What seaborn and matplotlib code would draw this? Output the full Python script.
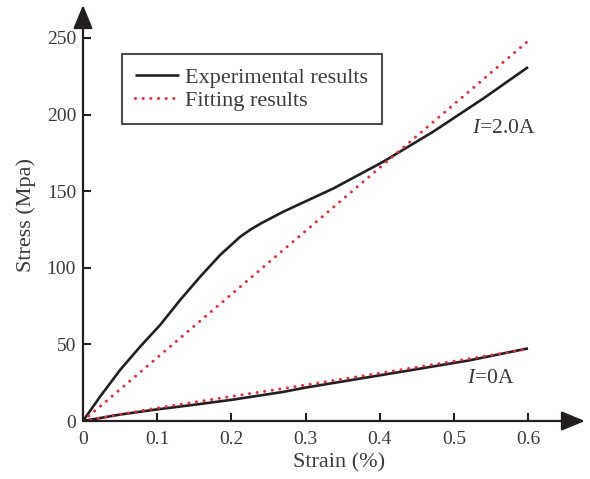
import matplotlib
matplotlib.use("Agg")
import matplotlib.pyplot as plt
import seaborn as sns
import pandas as pd

# ---- data ----
strain_exp_hi = [0.0, 0.023, 0.050, 0.077, 0.104, 0.131, 0.158, 0.185, 0.212, 0.226,
                 0.240, 0.270, 0.338, 0.405, 0.472, 0.540, 0.600]
stress_exp_hi = [0.0, 15.9, 33.3, 48.5, 62.7, 79.0, 94.2, 108.4, 120.3, 125.0,
                 129.0, 136.6, 151.9, 169.3, 188.8, 210.6, 231.0]
strain_fit_hi = [0.0, 0.60]
stress_fit_hi = [0.0, 248.0]

strain_exp_lo = [0.0, 0.05, 0.10, 0.15, 0.20, 0.27, 0.30, 0.43, 0.52, 0.60]
stress_exp_lo = [0.0, 4.2, 7.6, 10.6, 13.8, 19.0, 21.8, 32.2, 39.5, 47.4]
strain_fit_lo = [0.0, 0.10, 0.20, 0.30, 0.40, 0.50, 0.60]
stress_fit_lo = [0.0, 8.5, 16.0, 23.5, 31.2, 39.0, 47.0]

x_ticks = [0, 0.1, 0.2, 0.3, 0.4, 0.5, 0.6]
x_tick_labels = ["0", "0.1", "0.2", "0.3", "0.4", "0.5", "0.6"]
y_ticks = [0, 50, 100, 150, 200, 250]
legend_labels = ["Experimental results", "Fitting results"]
curve_labels = [r"$\mathit{I}$=2.0A", r"$\mathit{I}$=0A"]

# ---- style ----
sns.set_style("white")
plt.rcParams["font.family"] = ["Liberation Serif", "DejaVu Serif"]
plt.rcParams["mathtext.fontset"] = "custom"
plt.rcParams["mathtext.rm"] = "Liberation Serif"
plt.rcParams["mathtext.it"] = "Liberation Serif:italic"

dark = "#231f20"
text_c = "#3a3a3a"
red = "#ee2a3a"

fig = plt.figure(figsize=(5.9, 4.79), dpi=100)
ax = fig.add_axes([83 / 590, 58 / 479, 502 / 590, 416 / 479])

df_exp_hi = pd.DataFrame({"strain": strain_exp_hi, "stress": stress_exp_hi})
df_fit_hi = pd.DataFrame({"strain": strain_fit_hi, "stress": stress_fit_hi})
df_exp_lo = pd.DataFrame({"strain": strain_exp_lo, "stress": stress_exp_lo})
df_fit_lo = pd.DataFrame({"strain": strain_fit_lo, "stress": stress_fit_lo})

exp_kw = dict(color=dark, lw=1.9, solid_capstyle="butt", solid_joinstyle="round")
fit_kw = dict(color=red, lw=2.2, linestyle=(0, (0.01, 2.5)), dash_capstyle="round")

sns.lineplot(data=df_exp_hi, x="strain", y="stress", ax=ax, label=legend_labels[0], **exp_kw)
sns.lineplot(data=df_fit_hi, x="strain", y="stress", ax=ax, label=legend_labels[1], **fit_kw)
sns.lineplot(data=df_exp_lo, x="strain", y="stress", ax=ax, **exp_kw)
sns.lineplot(data=df_fit_lo, x="strain", y="stress", ax=ax, **fit_kw)

x_max = 502 / 741.7
y_max = 416 / 1.532
ax.set_xlim(0, x_max)
ax.set_ylim(0, y_max)

for s in ax.spines.values():
    s.set_visible(False)

# axes with arrowheads
arrow_kw = dict(arrowstyle="-|>,head_length=1.45,head_width=0.6", lw=1.6,
                color=dark, shrinkA=0, shrinkB=0, mutation_scale=10)
ax.annotate("", xy=(1, 0), xytext=(0, 0), xycoords="axes fraction",
            textcoords="axes fraction", arrowprops=arrow_kw, annotation_clip=False)
ax.annotate("", xy=(0, 1), xytext=(0, 0), xycoords="axes fraction",
            textcoords="axes fraction", arrowprops=arrow_kw, annotation_clip=False)

ax.set_xticks(x_ticks)
ax.set_xticklabels(x_tick_labels)
ax.set_yticks(y_ticks)
ax.tick_params(axis="both", direction="in", length=6, width=1.5, color=dark,
               labelsize=14, labelcolor=text_c)
ax.tick_params(axis="x", pad=7, bottom=True)
ax.tick_params(axis="y", pad=5, left=True)

ax.set_xlabel("Strain (%)", fontsize=16, color=text_c)
ax.set_ylabel("Stress (Mpa)", fontsize=16, color=text_c)
ax.xaxis.set_label_coords(0.511, -0.078)
ax.yaxis.set_label_coords(-0.093, 0.495)

leg = ax.legend(loc="upper left", bbox_to_anchor=((122 - 83) / 502, (421 - 54) / 416),
                fontsize=16, frameon=True, fancybox=False, handlelength=1.95,
                handletextpad=0.3, borderpad=0.6, labelspacing=0.1,
                borderaxespad=0)
leg.get_frame().set_edgecolor(dark)
leg.get_frame().set_linewidth(1.5)
for t in leg.get_texts():
    t.set_color(text_c)

ax.text(0.5245, 188, curve_labels[0], fontsize=15.5, color=text_c, ha="left", va="baseline")
ax.text(0.5178, 24.8, curve_labels[1], fontsize=15.5, color=text_c, ha="left", va="baseline")

fig.savefig("out.png", dpi=100)
